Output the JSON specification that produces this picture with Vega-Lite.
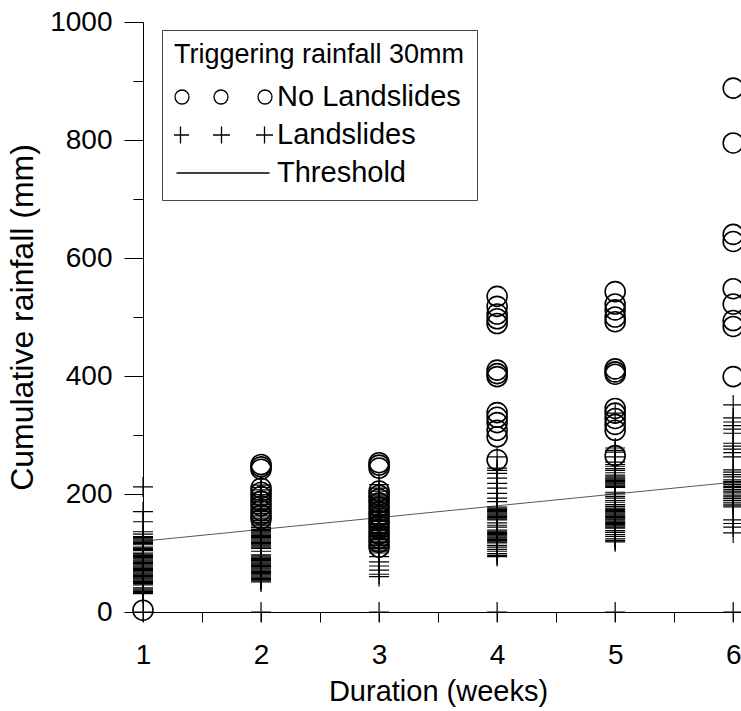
{
  "$schema": "https://vega.github.io/schema/vega-lite/v6.json",
  "autosize": "none",
  "width": 602,
  "height": 590,
  "padding": {"left": 143, "top": 22, "right": 0, "bottom": 99},
  "background": "white",
  "config": {"font": "Liberation Sans", "view": {"stroke": null}},
  "data": {"values": [
    {"w":1,"r":120,"t":"Threshold"},{"w":6,"r":220,"t":"Threshold"},
    {"w":1,"r":3,"t":"No Landslides"},
    {"w":2,"r":250,"t":"No Landslides"},{"w":2,"r":246,"t":"No Landslides"},{"w":2,"r":242,"t":"No Landslides"},{"w":2,"r":210,"t":"No Landslides"},{"w":2,"r":203,"t":"No Landslides"},{"w":2,"r":196,"t":"No Landslides"},{"w":2,"r":188,"t":"No Landslides"},{"w":2,"r":180,"t":"No Landslides"},{"w":2,"r":172,"t":"No Landslides"},{"w":2,"r":165,"t":"No Landslides"},{"w":2,"r":158,"t":"No Landslides"},
    {"w":3,"r":253,"t":"No Landslides"},{"w":3,"r":249,"t":"No Landslides"},{"w":3,"r":244,"t":"No Landslides"},{"w":3,"r":205,"t":"No Landslides"},{"w":3,"r":198,"t":"No Landslides"},{"w":3,"r":192,"t":"No Landslides"},{"w":3,"r":185,"t":"No Landslides"},{"w":3,"r":178,"t":"No Landslides"},{"w":3,"r":170,"t":"No Landslides"},{"w":3,"r":163,"t":"No Landslides"},{"w":3,"r":155,"t":"No Landslides"},{"w":3,"r":148,"t":"No Landslides"},{"w":3,"r":140,"t":"No Landslides"},{"w":3,"r":132,"t":"No Landslides"},{"w":3,"r":125,"t":"No Landslides"},{"w":3,"r":118,"t":"No Landslides"},{"w":3,"r":110,"t":"No Landslides"},
    {"w":4,"r":535,"t":"No Landslides"},{"w":4,"r":518,"t":"No Landslides"},{"w":4,"r":505,"t":"No Landslides"},{"w":4,"r":497,"t":"No Landslides"},{"w":4,"r":489,"t":"No Landslides"},{"w":4,"r":410,"t":"No Landslides"},{"w":4,"r":404,"t":"No Landslides"},{"w":4,"r":399,"t":"No Landslides"},{"w":4,"r":338,"t":"No Landslides"},{"w":4,"r":330,"t":"No Landslides"},{"w":4,"r":321,"t":"No Landslides"},{"w":4,"r":308,"t":"No Landslides"},{"w":4,"r":297,"t":"No Landslides"},{"w":4,"r":258,"t":"No Landslides"},
    {"w":5,"r":543,"t":"No Landslides"},{"w":5,"r":522,"t":"No Landslides"},{"w":5,"r":512,"t":"No Landslides"},{"w":5,"r":500,"t":"No Landslides"},{"w":5,"r":492,"t":"No Landslides"},{"w":5,"r":412,"t":"No Landslides"},{"w":5,"r":407,"t":"No Landslides"},{"w":5,"r":403,"t":"No Landslides"},{"w":5,"r":345,"t":"No Landslides"},{"w":5,"r":337,"t":"No Landslides"},{"w":5,"r":328,"t":"No Landslides"},{"w":5,"r":318,"t":"No Landslides"},{"w":5,"r":308,"t":"No Landslides"},{"w":5,"r":265,"t":"No Landslides"},
    {"w":6,"r":888,"t":"No Landslides"},{"w":6,"r":795,"t":"No Landslides"},{"w":6,"r":640,"t":"No Landslides"},{"w":6,"r":628,"t":"No Landslides"},{"w":6,"r":548,"t":"No Landslides"},{"w":6,"r":522,"t":"No Landslides"},{"w":6,"r":494,"t":"No Landslides"},{"w":6,"r":484,"t":"No Landslides"},{"w":6,"r":399,"t":"No Landslides"},
    {"w":1,"r":0,"t":"Landslides"},{"w":1,"r":212,"t":"Landslides"},{"w":1,"r":170,"t":"Landslides"},{"w":1,"r":153,"t":"Landslides"},{"w":1,"r":136,"t":"Landslides"},{"w":1,"r":132,"t":"Landslides"},{"w":1,"r":128,"t":"Landslides"},{"w":1,"r":126,"t":"Landslides"},{"w":1,"r":124,"t":"Landslides"},{"w":1,"r":122,"t":"Landslides"},{"w":1,"r":120,"t":"Landslides"},{"w":1,"r":118,"t":"Landslides"},{"w":1,"r":116,"t":"Landslides"},{"w":1,"r":114,"t":"Landslides"},{"w":1,"r":110,"t":"Landslides"},{"w":1,"r":108,"t":"Landslides"},{"w":1,"r":106,"t":"Landslides"},{"w":1,"r":104,"t":"Landslides"},{"w":1,"r":100,"t":"Landslides"},{"w":1,"r":98,"t":"Landslides"},{"w":1,"r":96,"t":"Landslides"},{"w":1,"r":94,"t":"Landslides"},{"w":1,"r":92,"t":"Landslides"},{"w":1,"r":90,"t":"Landslides"},{"w":1,"r":88,"t":"Landslides"},{"w":1,"r":86,"t":"Landslides"},{"w":1,"r":84,"t":"Landslides"},{"w":1,"r":82,"t":"Landslides"},{"w":1,"r":80,"t":"Landslides"},{"w":1,"r":78,"t":"Landslides"},{"w":1,"r":76,"t":"Landslides"},{"w":1,"r":74,"t":"Landslides"},{"w":1,"r":72,"t":"Landslides"},{"w":1,"r":70,"t":"Landslides"},{"w":1,"r":68,"t":"Landslides"},{"w":1,"r":66,"t":"Landslides"},{"w":1,"r":64,"t":"Landslides"},{"w":1,"r":62,"t":"Landslides"},{"w":1,"r":60,"t":"Landslides"},{"w":1,"r":58,"t":"Landslides"},{"w":1,"r":56,"t":"Landslides"},{"w":1,"r":54,"t":"Landslides"},{"w":1,"r":52,"t":"Landslides"},{"w":1,"r":50,"t":"Landslides"},{"w":1,"r":48,"t":"Landslides"},{"w":1,"r":46,"t":"Landslides"},{"w":1,"r":41,"t":"Landslides"},{"w":1,"r":39,"t":"Landslides"},{"w":1,"r":37,"t":"Landslides"},{"w":1,"r":35,"t":"Landslides"},{"w":1,"r":33,"t":"Landslides"},{"w":1,"r":31,"t":"Landslides"},
    {"w":2,"r":0,"t":"Landslides"},{"w":2,"r":215,"t":"Landslides"},{"w":2,"r":211,"t":"Landslides"},{"w":2,"r":207,"t":"Landslides"},{"w":2,"r":203,"t":"Landslides"},{"w":2,"r":199,"t":"Landslides"},{"w":2,"r":195,"t":"Landslides"},{"w":2,"r":191,"t":"Landslides"},{"w":2,"r":187,"t":"Landslides"},{"w":2,"r":183,"t":"Landslides"},{"w":2,"r":179,"t":"Landslides"},{"w":2,"r":176,"t":"Landslides"},{"w":2,"r":173,"t":"Landslides"},{"w":2,"r":170,"t":"Landslides"},{"w":2,"r":167,"t":"Landslides"},{"w":2,"r":164,"t":"Landslides"},{"w":2,"r":161,"t":"Landslides"},{"w":2,"r":158,"t":"Landslides"},{"w":2,"r":155,"t":"Landslides"},{"w":2,"r":152,"t":"Landslides"},{"w":2,"r":149,"t":"Landslides"},{"w":2,"r":146,"t":"Landslides"},{"w":2,"r":143,"t":"Landslides"},{"w":2,"r":140,"t":"Landslides"},{"w":2,"r":138,"t":"Landslides"},{"w":2,"r":136,"t":"Landslides"},{"w":2,"r":134,"t":"Landslides"},{"w":2,"r":132,"t":"Landslides"},{"w":2,"r":130,"t":"Landslides"},{"w":2,"r":128,"t":"Landslides"},{"w":2,"r":126,"t":"Landslides"},{"w":2,"r":124,"t":"Landslides"},{"w":2,"r":122,"t":"Landslides"},{"w":2,"r":120,"t":"Landslides"},{"w":2,"r":118,"t":"Landslides"},{"w":2,"r":116,"t":"Landslides"},{"w":2,"r":114,"t":"Landslides"},{"w":2,"r":112,"t":"Landslides"},{"w":2,"r":110,"t":"Landslides"},{"w":2,"r":108,"t":"Landslides"},{"w":2,"r":103,"t":"Landslides"},{"w":2,"r":97,"t":"Landslides"},{"w":2,"r":95,"t":"Landslides"},{"w":2,"r":93,"t":"Landslides"},{"w":2,"r":91,"t":"Landslides"},{"w":2,"r":89,"t":"Landslides"},{"w":2,"r":87,"t":"Landslides"},{"w":2,"r":85,"t":"Landslides"},{"w":2,"r":83,"t":"Landslides"},{"w":2,"r":81,"t":"Landslides"},{"w":2,"r":79,"t":"Landslides"},{"w":2,"r":77,"t":"Landslides"},{"w":2,"r":75,"t":"Landslides"},{"w":2,"r":73,"t":"Landslides"},{"w":2,"r":71,"t":"Landslides"},{"w":2,"r":69,"t":"Landslides"},{"w":2,"r":67,"t":"Landslides"},{"w":2,"r":65,"t":"Landslides"},{"w":2,"r":63,"t":"Landslides"},{"w":2,"r":61,"t":"Landslides"},{"w":2,"r":59,"t":"Landslides"},{"w":2,"r":57,"t":"Landslides"},{"w":2,"r":55,"t":"Landslides"},{"w":2,"r":53,"t":"Landslides"},{"w":2,"r":51,"t":"Landslides"},
    {"w":3,"r":0,"t":"Landslides"},{"w":3,"r":60,"t":"Landslides"},{"w":3,"r":64,"t":"Landslides"},{"w":3,"r":71,"t":"Landslides"},{"w":3,"r":78,"t":"Landslides"},{"w":3,"r":85,"t":"Landslides"},{"w":3,"r":94,"t":"Landslides"},{"w":3,"r":100,"t":"Landslides"},{"w":3,"r":103,"t":"Landslides"},{"w":3,"r":105,"t":"Landslides"},{"w":3,"r":108,"t":"Landslides"},{"w":3,"r":110,"t":"Landslides"},{"w":3,"r":113,"t":"Landslides"},{"w":3,"r":115,"t":"Landslides"},{"w":3,"r":118,"t":"Landslides"},{"w":3,"r":120,"t":"Landslides"},{"w":3,"r":123,"t":"Landslides"},{"w":3,"r":125,"t":"Landslides"},{"w":3,"r":128,"t":"Landslides"},{"w":3,"r":130,"t":"Landslides"},{"w":3,"r":133,"t":"Landslides"},{"w":3,"r":135,"t":"Landslides"},{"w":3,"r":138,"t":"Landslides"},{"w":3,"r":140,"t":"Landslides"},{"w":3,"r":143,"t":"Landslides"},{"w":3,"r":145,"t":"Landslides"},{"w":3,"r":148,"t":"Landslides"},{"w":3,"r":150,"t":"Landslides"},{"w":3,"r":153,"t":"Landslides"},{"w":3,"r":155,"t":"Landslides"},{"w":3,"r":158,"t":"Landslides"},{"w":3,"r":160,"t":"Landslides"},{"w":3,"r":163,"t":"Landslides"},{"w":3,"r":165,"t":"Landslides"},{"w":3,"r":168,"t":"Landslides"},{"w":3,"r":170,"t":"Landslides"},{"w":3,"r":173,"t":"Landslides"},{"w":3,"r":175,"t":"Landslides"},{"w":3,"r":178,"t":"Landslides"},{"w":3,"r":180,"t":"Landslides"},{"w":3,"r":183,"t":"Landslides"},{"w":3,"r":185,"t":"Landslides"},{"w":3,"r":188,"t":"Landslides"},{"w":3,"r":190,"t":"Landslides"},{"w":3,"r":193,"t":"Landslides"},{"w":3,"r":195,"t":"Landslides"},{"w":3,"r":198,"t":"Landslides"},{"w":3,"r":200,"t":"Landslides"},{"w":3,"r":205,"t":"Landslides"},{"w":3,"r":210,"t":"Landslides"},{"w":3,"r":216,"t":"Landslides"},
    {"w":4,"r":0,"t":"Landslides"},{"w":4,"r":263,"t":"Landslides"},{"w":4,"r":244,"t":"Landslides"},{"w":4,"r":240,"t":"Landslides"},{"w":4,"r":235,"t":"Landslides"},{"w":4,"r":227,"t":"Landslides"},{"w":4,"r":218,"t":"Landslides"},{"w":4,"r":210,"t":"Landslides"},{"w":4,"r":201,"t":"Landslides"},{"w":4,"r":193,"t":"Landslides"},{"w":4,"r":187,"t":"Landslides"},{"w":4,"r":178,"t":"Landslides"},{"w":4,"r":176,"t":"Landslides"},{"w":4,"r":174,"t":"Landslides"},{"w":4,"r":172,"t":"Landslides"},{"w":4,"r":170,"t":"Landslides"},{"w":4,"r":168,"t":"Landslides"},{"w":4,"r":166,"t":"Landslides"},{"w":4,"r":164,"t":"Landslides"},{"w":4,"r":162,"t":"Landslides"},{"w":4,"r":160,"t":"Landslides"},{"w":4,"r":158,"t":"Landslides"},{"w":4,"r":156,"t":"Landslides"},{"w":4,"r":151,"t":"Landslides"},{"w":4,"r":147,"t":"Landslides"},{"w":4,"r":144,"t":"Landslides"},{"w":4,"r":139,"t":"Landslides"},{"w":4,"r":137,"t":"Landslides"},{"w":4,"r":135,"t":"Landslides"},{"w":4,"r":133,"t":"Landslides"},{"w":4,"r":131,"t":"Landslides"},{"w":4,"r":129,"t":"Landslides"},{"w":4,"r":127,"t":"Landslides"},{"w":4,"r":125,"t":"Landslides"},{"w":4,"r":123,"t":"Landslides"},{"w":4,"r":121,"t":"Landslides"},{"w":4,"r":119,"t":"Landslides"},{"w":4,"r":117,"t":"Landslides"},{"w":4,"r":113,"t":"Landslides"},{"w":4,"r":110,"t":"Landslides"},{"w":4,"r":106,"t":"Landslides"},{"w":4,"r":103,"t":"Landslides"},{"w":4,"r":99,"t":"Landslides"},{"w":4,"r":96,"t":"Landslides"},{"w":4,"r":94,"t":"Landslides"},
    {"w":5,"r":0,"t":"Landslides"},{"w":5,"r":337,"t":"Landslides"},{"w":5,"r":278,"t":"Landslides"},{"w":5,"r":274,"t":"Landslides"},{"w":5,"r":271,"t":"Landslides"},{"w":5,"r":263,"t":"Landslides"},{"w":5,"r":254,"t":"Landslides"},{"w":5,"r":250,"t":"Landslides"},{"w":5,"r":247,"t":"Landslides"},{"w":5,"r":243,"t":"Landslides"},{"w":5,"r":240,"t":"Landslides"},{"w":5,"r":236,"t":"Landslides"},{"w":5,"r":232,"t":"Landslides"},{"w":5,"r":229,"t":"Landslides"},{"w":5,"r":227,"t":"Landslides"},{"w":5,"r":225,"t":"Landslides"},{"w":5,"r":223,"t":"Landslides"},{"w":5,"r":221,"t":"Landslides"},{"w":5,"r":219,"t":"Landslides"},{"w":5,"r":217,"t":"Landslides"},{"w":5,"r":215,"t":"Landslides"},{"w":5,"r":213,"t":"Landslides"},{"w":5,"r":211,"t":"Landslides"},{"w":5,"r":203,"t":"Landslides"},{"w":5,"r":200,"t":"Landslides"},{"w":5,"r":196,"t":"Landslides"},{"w":5,"r":193,"t":"Landslides"},{"w":5,"r":189,"t":"Landslides"},{"w":5,"r":186,"t":"Landslides"},{"w":5,"r":182,"t":"Landslides"},{"w":5,"r":179,"t":"Landslides"},{"w":5,"r":176,"t":"Landslides"},{"w":5,"r":174,"t":"Landslides"},{"w":5,"r":172,"t":"Landslides"},{"w":5,"r":170,"t":"Landslides"},{"w":5,"r":168,"t":"Landslides"},{"w":5,"r":166,"t":"Landslides"},{"w":5,"r":164,"t":"Landslides"},{"w":5,"r":162,"t":"Landslides"},{"w":5,"r":160,"t":"Landslides"},{"w":5,"r":158,"t":"Landslides"},{"w":5,"r":156,"t":"Landslides"},{"w":5,"r":154,"t":"Landslides"},{"w":5,"r":152,"t":"Landslides"},{"w":5,"r":150,"t":"Landslides"},{"w":5,"r":148,"t":"Landslides"},{"w":5,"r":146,"t":"Landslides"},{"w":5,"r":144,"t":"Landslides"},{"w":5,"r":142,"t":"Landslides"},{"w":5,"r":138,"t":"Landslides"},{"w":5,"r":135,"t":"Landslides"},{"w":5,"r":131,"t":"Landslides"},{"w":5,"r":128,"t":"Landslides"},{"w":5,"r":124,"t":"Landslides"},{"w":5,"r":121,"t":"Landslides"},{"w":5,"r":119,"t":"Landslides"},
    {"w":6,"r":0,"t":"Landslides"},{"w":6,"r":351,"t":"Landslides"},{"w":6,"r":329,"t":"Landslides"},{"w":6,"r":322,"t":"Landslides"},{"w":6,"r":316,"t":"Landslides"},{"w":6,"r":310,"t":"Landslides"},{"w":6,"r":303,"t":"Landslides"},{"w":6,"r":286,"t":"Landslides"},{"w":6,"r":281,"t":"Landslides"},{"w":6,"r":276,"t":"Landslides"},{"w":6,"r":270,"t":"Landslides"},{"w":6,"r":263,"t":"Landslides"},{"w":6,"r":241,"t":"Landslides"},{"w":6,"r":237,"t":"Landslides"},{"w":6,"r":233,"t":"Landslides"},{"w":6,"r":229,"t":"Landslides"},{"w":6,"r":224,"t":"Landslides"},{"w":6,"r":221,"t":"Landslides"},{"w":6,"r":219,"t":"Landslides"},{"w":6,"r":216,"t":"Landslides"},{"w":6,"r":213,"t":"Landslides"},{"w":6,"r":211,"t":"Landslides"},{"w":6,"r":208,"t":"Landslides"},{"w":6,"r":205,"t":"Landslides"},{"w":6,"r":203,"t":"Landslides"},{"w":6,"r":200,"t":"Landslides"},{"w":6,"r":197,"t":"Landslides"},{"w":6,"r":195,"t":"Landslides"},{"w":6,"r":192,"t":"Landslides"},{"w":6,"r":189,"t":"Landslides"},{"w":6,"r":186,"t":"Landslides"},{"w":6,"r":183,"t":"Landslides"},{"w":6,"r":180,"t":"Landslides"},{"w":6,"r":178,"t":"Landslides"},{"w":6,"r":156,"t":"Landslides"},{"w":6,"r":150,"t":"Landslides"},{"w":6,"r":144,"t":"Landslides"},{"w":6,"r":134,"t":"Landslides"}
  ]},
  "encoding": {
    "x": {"field": "w", "type": "quantitative", "scale": {"domain": [1, 6.1], "nice": false, "zero": false},
      "axis": {"values": [1,1.5,2,2.5,3,3.5,4,4.5,5,5.5,6], "labelExpr": "datum.value % 1 === 0 ? format(datum.value, 'd') : ''", "labelOverlap": false, "labelFlush": false,
        "tickSize": 10, "tickColor": "black", "domainColor": "black", "grid": false,
        "labelFontSize": 28, "labelColor": "black", "labelPadding": 19,
        "title": "Duration (weeks)", "titleFontSize": 29, "titleFontWeight": "normal", "titleColor": "black", "titlePadding": 8, "titleX": 295}},
    "y": {"field": "r", "type": "quantitative", "scale": {"domain": [0, 1000], "nice": false},
      "axis": {"values": [0,100,200,300,400,500,600,700,800,900,1000], "labelExpr": "datum.value % 200 === 0 ? format(datum.value, 'd') : ''", "labelOverlap": false, "labelFlush": false,
        "tickSize": {"condition": {"test": "datum.value % 200 === 0", "value": 19}, "value": 10},
        "tickColor": "black", "domainColor": "black", "grid": false,
        "labelFontSize": 28, "labelColor": "black", "labelPadding": 12,
        "title": "Cumulative rainfall (mm)", "titleFontSize": 32, "titleFontWeight": "normal", "titleColor": "black", "titlePadding": 10}}
  },
  "layer": [
    {
      "transform": [{"filter": "datum.t === 'Threshold'"}],
      "mark": {"type": "line", "color": "#555555", "strokeWidth": 1}
    },
    {
      "transform": [{"filter": "datum.t === 'Landslides'"}],
      "mark": {"type": "point", "shape": "M-1,0H1M0,-1V1", "filled": false, "color": "black", "strokeWidth": 1.2, "size": 400, "opacity": 1}
    },
    {
      "transform": [{"filter": "datum.t === 'No Landslides'"}],
      "mark": {"type": "point", "shape": "circle", "filled": false, "color": "black", "strokeWidth": 1.6, "size": 400, "opacity": 1}
    },
    {
      "transform": [{"filter": "false"}],
      "mark": {"type": "point", "filled": false, "color": "black", "strokeWidth": 1.3, "size": 10000, "opacity": 1},
      "encoding": {"shape": {"field": "t", "type": "nominal",
        "scale": {"domain": ["No Landslides", "Landslides", "Threshold"],
          "range": [
            "M-0.68,0C-0.68,0.0773 -0.7427,0.14 -0.82,0.14C-0.8973,0.14 -0.96,0.0773 -0.96,0C-0.96,-0.0773 -0.8973,-0.14 -0.82,-0.14C-0.7427,-0.14 -0.68,-0.0773 -0.68,0ZM0.1,0C0.1,0.0773 0.0373,0.14 -0.04,0.14C-0.1173,0.14 -0.18,0.0773 -0.18,0C-0.18,-0.0773 -0.1173,-0.14 -0.04,-0.14C0.0373,-0.14 0.1,-0.0773 0.1,0ZM0.98,0C0.98,0.0773 0.9173,0.14 0.84,0.14C0.7627,0.14 0.7,0.0773 0.7,0C0.7,-0.0773 0.7627,-0.14 0.84,-0.14C0.9173,-0.14 0.98,-0.0773 0.98,0Z",
            "M-1.02,0H-0.68M-0.85,-0.17V0.17M-0.2,0H0.14M-0.03,-0.17V0.17M0.66,0H1M0.83,-0.17V0.17",
            "M-0.93,0H0.93"
          ]},
        "legend": {
          "orient": "none", "legendX": 19, "legendY": 8,
          "title": "Triggering rainfall 30mm", "titleFontSize": 27, "titleFontWeight": "normal", "titleColor": "black", "titlePadding": 13, "titleLimit": 600,
          "labelFontSize": 29, "labelColor": "black", "labelLimit": 600,
          "symbolSize": 10000, "symbolStrokeWidth": 1.3, "symbolStrokeColor": "black", "symbolFillColor": "transparent", "symbolOffset": -2, "labelOffset": 3,
          "clipHeight": 30, "rowPadding": 8, "padding": 12,
          "strokeColor": "#444444", "fillColor": "white",
          "encode": {"symbols": {"update": {
            "stroke": {"signal": "datum.value === 'Threshold' ? '#555555' : 'black'"}
          }}}
        }}}
    }
  ]
}
